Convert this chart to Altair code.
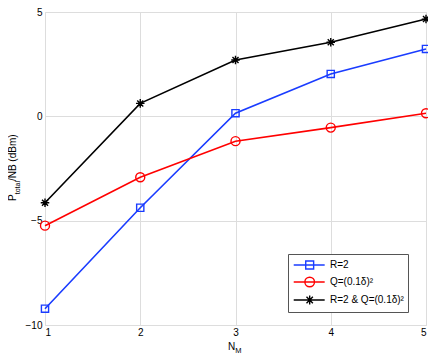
import altair as alt
import pandas as pd

N = [1, 2, 3, 4, 5]
series_names = ["R=2", "Q=(0.1δ)²", "R=2 & Q=(0.1δ)²"]
r2_vals = [-9.22, -4.38, 0.15, 2.03, 3.23]
q_vals = [-5.24, -2.92, -1.19, -0.54, 0.15]
both_vals = [-4.14, 0.62, 2.70, 3.55, 4.66]
colors = ["#1a3cff", "#ff0000", "#000000"]
x_ticks = [1, 2, 3, 4, 5]
y_ticks = [-10, -5, 0, 5]

rows = []
for name, vals in zip(series_names, [r2_vals, q_vals, both_vals]):
    for n, v in zip(N, vals):
        rows.append({"N": n, "P": v, "series": name})
df = pd.DataFrame(rows)

FONT = "Liberation Sans"

# marker shapes (unit square [-1,1])
plot_shapes = [
    "M-0.8,-0.8H0.8V0.8H-0.8Z",
    "circle",
    "M-0.95,0H0.95M0,-0.95V0.95M-0.67,-0.67L0.67,0.67M-0.67,0.67L0.67,-0.67",
]
# legend symbols: line + marker (unit = 6px)
legend_shapes = [
    "M-0.88,0H4.28M1.12,-0.66H2.44V0.66H1.12Z",
    "M-0.88,0H4.28M0.98,0A0.8,0.8,0,1,0,2.58,0A0.8,0.8,0,1,0,0.98,0Z",
    "M-0.88,0H4.28M1.03,0H2.53M1.78,-0.75V0.75M1.25,-0.53L2.31,0.53M1.25,0.53L2.31,-0.53",
]

xscale = alt.Scale(domain=[1, 5], nice=False, zero=False)
yscale = alt.Scale(domain=[-10, 5], nice=False, zero=False)
cscale = alt.Scale(domain=series_names, range=colors)

xenc = alt.X("N:Q", scale=xscale,
             axis=alt.Axis(values=x_ticks, format="d", title=None, ticks=False,
                           labelPadding=2, domain=False, grid=True))
yenc = alt.Y("P:Q", scale=yscale,
             axis=alt.Axis(values=y_ticks, format="d", title=None, ticks=False,
                           labelPadding=3, domain=False, grid=True))

lines = alt.Chart(df).mark_line(strokeWidth=1.6).encode(
    x=xenc, y=yenc,
    color=alt.Color("series:N", scale=cscale, legend=None),
    detail="series:N",
)

points = alt.Chart(df).mark_point(filled=False, size=81, strokeWidth=1.4, opacity=1).encode(
    x="N:Q", y="P:Q",
    color=alt.Color("series:N", scale=cscale, legend=None),
    shape=alt.Shape("series:N", scale=alt.Scale(domain=series_names, range=plot_shapes), legend=None),
)

legend_layer = alt.Chart(df).mark_point(filled=False, opacity=0).encode(
    x="N:Q", y="P:Q",
    color=alt.Color("series:N", scale=cscale, legend=None),
    shape=alt.Shape("series:N", scale=alt.Scale(domain=series_names, range=legend_shapes),
                    legend=alt.Legend(title=None, orient="none", legendX=243, legendY=242,
                                      symbolSize=144, symbolStrokeWidth=1.4,
                                      symbolOpacity=1, labelFontSize=10, labelFont=FONT,
                                      labelColor="#000", padding=4, rowPadding=2,
                                      strokeColor="#555", fillColor="white",
                                      labelOffset=24,
                                      symbolStrokeColor=alt.ExprRef("scale('color', datum.value)"))),
)

one = alt.Data(values=[{"a": 1}])

def txt(s, x, y, size, angle=0):
    return alt.Chart(one).mark_text(
        text=s, font=FONT, fontSize=size, align="left", baseline="alphabetic",
        angle=angle, color="#000"
    ).encode(x=alt.value(x), y=alt.value(y))

titles = [
    txt("P", -29, 189, 10, 270),
    txt("total", -25, 182.3, 7, 270),
    txt("/NB (dBm)", -29, 169.1, 10, 270),
    txt("N", 183, 338, 10),
    txt("M", 190.2, 341.3, 7.5),
]

chart = alt.layer(lines, points, legend_layer, *titles).resolve_scale(
    shape="independent"
).resolve_legend(shape="independent").properties(
    width=381, height=313,
    autosize=alt.AutoSizeParams(type="none"),
    padding={"left": 37, "top": 4, "right": 2, "bottom": 34},
).configure_view(
    stroke="#000", strokeWidth=1
).configure_axis(
    labelFont=FONT, labelFontSize=10, labelColor="#000",
    gridColor="#9a9a9a", gridDash=[1, 3], gridWidth=0.8,
).configure(background="white")

chart.save("out.html", embed_options={"renderer": "svg", "actions": False})
